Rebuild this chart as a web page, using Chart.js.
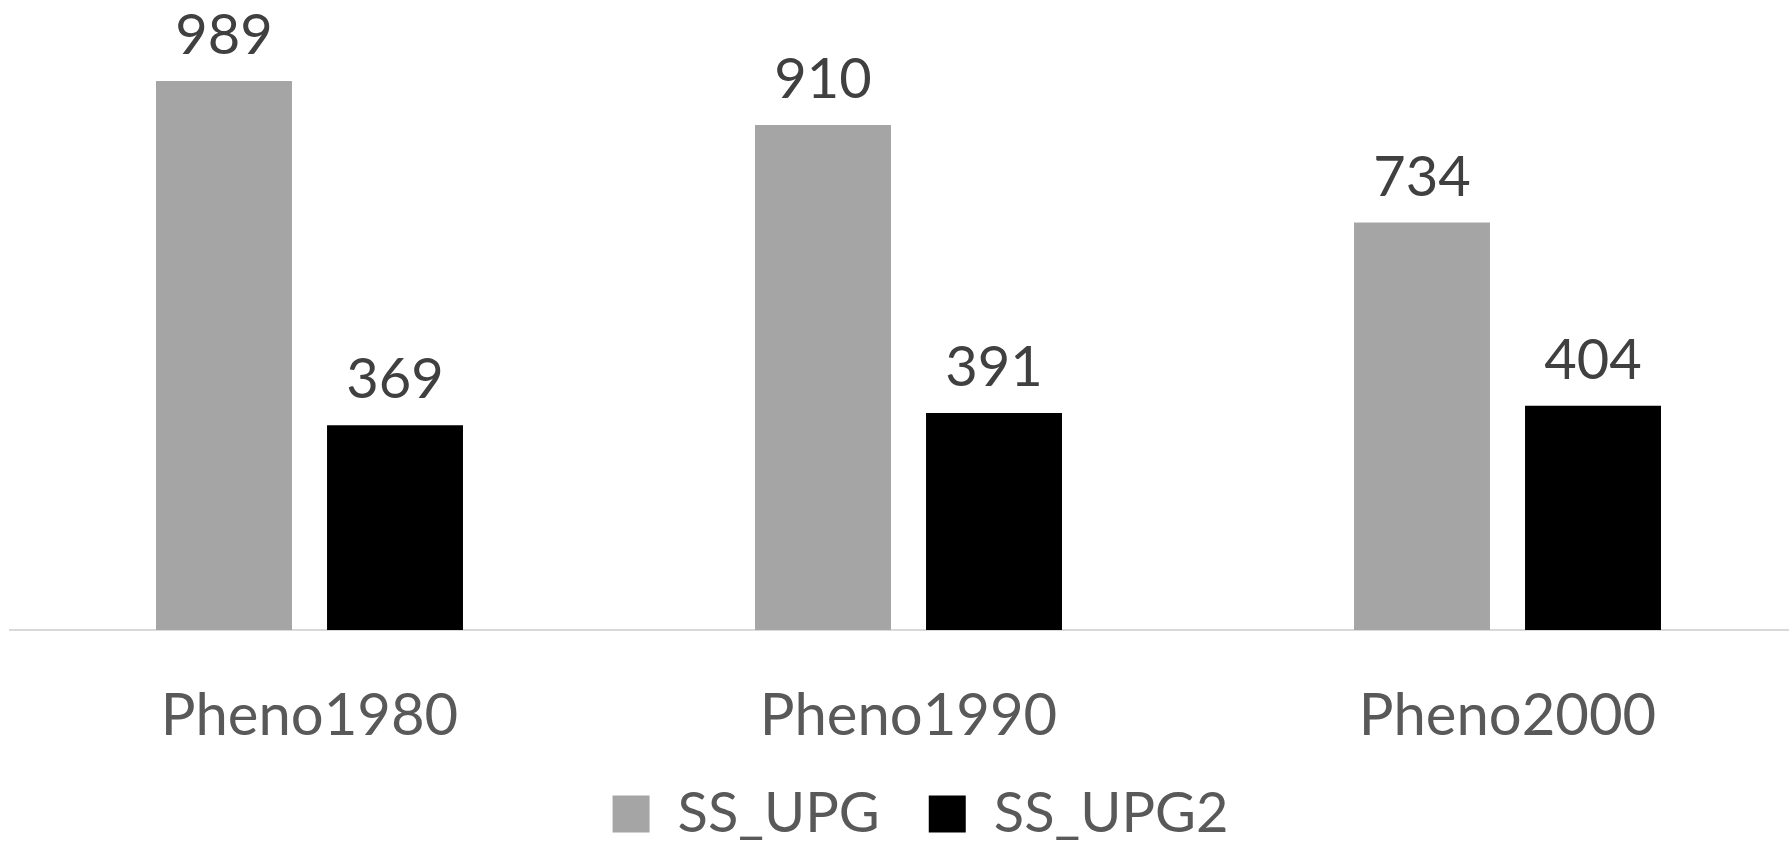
<!DOCTYPE html>
<html><head><meta charset="utf-8">
<script src="https://cdn.jsdelivr.net/npm/chart.js@4"></script>
<style>html,body{margin:0;padding:0;background:#fff;overflow:hidden}#wrap{width:1841px;height:842px;position:relative}</style>
</head><body><div id="wrap"><canvas id="c" width="1841" height="842"></canvas></div>
<script>
const categories = ['Pheno1980', 'Pheno1990', 'Pheno2000'];
const seriesNames = ['SS_UPG', 'SS_UPG2'];
const ssUpg = [989, 910, 734];
const ssUpg2 = [369, 391, 404];
const yMin = 0;
const yMax = 1135;

const valueLabels = {
  id: 'valueLabels',
  afterDatasetsDraw(chart) {
    const ctx = chart.ctx;
    ctx.save();
    ctx.font = '56px Lato';
    ctx.fillStyle = '#404040';
    ctx.textAlign = 'center';
    ctx.textBaseline = 'alphabetic';
    chart.data.datasets.forEach((ds, i) => {
      chart.getDatasetMeta(i).data.forEach((bar, j) => {
        ctx.fillText(String(ds.data[j]), bar.x, bar.y - 27);
      });
    });
    ctx.restore();
  }
};

function draw() {
  new Chart(document.getElementById('c'), {
    type: 'bar',
    data: {
      labels: categories,
      datasets: [
        { label: seriesNames[0], data: ssUpg, backgroundColor: '#A5A5A5', barPercentage: 0.795, categoryPercentage: 0.571 },
        { label: seriesNames[1], data: ssUpg2, backgroundColor: '#000000', barPercentage: 0.795, categoryPercentage: 0.571 }
      ]
    },
    options: {
      responsive: false,
      animation: false,
      events: [],
      layout: { padding: { left: 10, right: 10, top: 0, bottom: -10 } },
      plugins: {
        legend: {
          position: 'bottom',
          labels: { font: { family: 'Lato', size: 56 }, color: '#595959', boxWidth: 37, boxHeight: 37, padding: 49 }
        },
        tooltip: { enabled: false }
      },
      scales: {
        x: {
          grid: { display: false, drawTicks: false },
          border: { display: true, color: '#D9D9D9', width: 2 },
          ticks: { font: { family: 'Lato', size: 58 }, color: '#595959', padding: 51 },
          afterFit(scale) { scale.height = 107; }
        },
        y: {
          position: 'right', min: yMin, max: yMax,
          grid: { display: false, drawTicks: false },
          border: { display: false },
          ticks: { display: false },
          afterFit(scale) { scale.width = 24; }
        }
      }
    },
    plugins: [valueLabels]
  });
}
document.fonts.load('58px Lato').then(draw, draw);
</script>
</body></html>
